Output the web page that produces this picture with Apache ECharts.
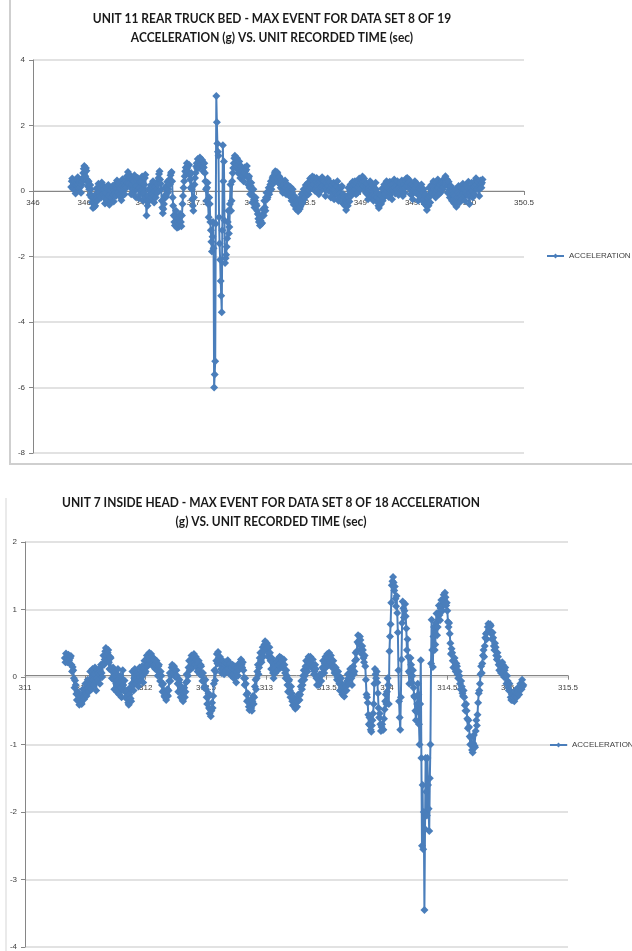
<!DOCTYPE html>
<html>
<head>
<meta charset="utf-8">
<script src="https://cdn.jsdelivr.net/npm/echarts@6/dist/echarts.min.js"></script>
<style>
    html, body { margin: 0; padding: 0; background: #fff; }
    #main { width: 632px; height: 951px; }
</style>
</head>
<body>
<div id="main"></div>
<script>
// recorded time: first sample and sample step (sec)
// each unit logs on the 0.01 s grid plus an in-between reading 0.005 s later
var t0Rear = 346.35, t0Head = 311.33, dt = 0.01;

// UNIT 11 REAR TRUCK BED, acceleration (g), one row = 0.1 sec
var accelRear = [
    0.12, 0.38, 0.05, 0.31, -0.08, 0.25, 0.42, 0.10, 0.33, -0.05,
    0.28, 0.55, 0.76, 0.45, 0.62, 0.15, 0.30, -0.12, 0.05, -0.35,
    -0.52, -0.20, -0.45, 0.08, -0.30, 0.22, -0.15, 0.10, 0.26, -0.10,
    0.05, -0.38, 0.12, -0.25, 0.18, -0.42, 0.02, -0.20, 0.15, -0.32,
    0.20, -0.15, 0.32, -0.05, 0.25, 0.08, -0.28, 0.36, 0.12, -0.10,
    0.30, 0.45, 0.58, 0.22, 0.40, -0.10, 0.35, 0.05, 0.48, -0.18,
    0.15, 0.40, -0.22, 0.28, 0.02, 0.44, -0.30, 0.20, 0.50, -0.75,
    -0.45, 0.05, -0.25, 0.18, -0.10, 0.30, -0.35, 0.12, 0.25, -0.05,
    0.40, 0.60, 0.22, -0.30, -0.68, -0.40, 0.10, -0.15, 0.28, 0.05,
    0.35, 0.48, 0.58, -0.20, -0.75, -1.05, -0.60, -1.12, -0.85, -1.00,
    -0.70, -1.08, -0.40, 0.10, 0.45, 0.72, 0.85, 0.60, 0.80, 0.35,
    0.55, -0.25, -0.60, 0.20, 0.55, 0.85, 0.98, 0.70, 1.02, 0.80,
    0.95, 0.60, 0.85, 0.30, -0.30, 0.25, -0.80, -0.40, -1.20, -1.85,
    -0.95, -6.00, -5.20, 2.90, 1.45, 1.08, -1.60, -2.75, -3.70, 1.40,
    0.90, -2.20, -1.95, -1.45, -0.60, -1.10, 0.20, -0.30, 0.55, 0.85,
    1.08, 0.70, 1.00, 0.55, 0.90, 0.40, 0.75, 0.62, 0.30, 0.72,
    0.48, 0.76, 0.20, 0.45, -0.10, 0.25, -0.35, 0.05, -0.50, -0.20,
    -0.45, -0.70, -0.95, -1.05, -0.80, -0.98, -0.55, -0.30, -0.60, -0.05,
    -0.20, 0.10, 0.00, 0.30, 0.18, 0.45, 0.35, 0.60, 0.40, 0.55,
    0.25, 0.42, 0.10, 0.30, -0.05, 0.20, 0.32, -0.10, 0.15, 0.05,
    -0.15, 0.12, -0.30, 0.05, -0.42, -0.20, -0.55, -0.35, -0.62, -0.25,
    -0.48, -0.10, -0.35, 0.05, -0.20, 0.18, -0.05, 0.25, 0.02, 0.38,
    0.15, 0.44, 0.20, 0.35, 0.05, 0.40, 0.22, -0.10, 0.30, 0.12,
    0.42, 0.08, 0.30, -0.15, 0.25, 0.38, 0.00, 0.28, -0.20, 0.18,
    0.05, -0.25, 0.20, -0.10, 0.30, -0.30, 0.10, -0.18, 0.15, -0.38,
    -0.20, -0.45, -0.58, -0.15, 0.10, -0.32, 0.20, -0.05, 0.28, 0.02,
    0.30, -0.10, 0.25, 0.12, 0.38, 0.05, 0.35, 0.44, 0.15, 0.30,
    -0.05, 0.22, -0.25, 0.10, 0.30, -0.15, 0.18, -0.30, 0.05, 0.25,
    -0.20, -0.35, -0.52, -0.10, -0.40, 0.08, -0.22, 0.20, -0.05, 0.30,
    0.10, -0.18, 0.28, 0.02, -0.25, 0.22, 0.35, -0.08, 0.15, 0.30,
    -0.12, 0.25, 0.05, 0.32, -0.15, 0.20, 0.10, 0.38, 0.40, 0.12,
    0.28, -0.10, 0.20, -0.25, 0.15, 0.30, -0.05, 0.22, -0.30, 0.08,
    -0.15, 0.20, -0.30, 0.05, -0.40, -0.10, -0.58, -0.22, 0.10, -0.35,
    0.18, -0.05, 0.30, 0.08, -0.20, 0.25, 0.35, -0.10, 0.20, 0.05,
    0.30, 0.12, 0.38, 0.45, 0.20, -0.05, 0.28, -0.20, 0.15, -0.30,
    -0.10, -0.38, 0.05, -0.48, -0.20, 0.15, -0.35, 0.10, -0.25, 0.22,
    0.05, -0.30, 0.18, -0.12, 0.28, -0.40, 0.10, 0.25, -0.20, 0.12,
    0.30, 0.39, 0.05, 0.28, -0.15, 0.32, 0.10, 0.35
];
// in-between readings (0.005 s after each of the above)
var accelRearMid = [
    0.30, 0.15, 0.22, 0.02, 0.18, 0.35, 0.20, 0.28, 0.12, 0.20,
    0.40, 0.68, 0.58, 0.70, 0.35, 0.25, 0.05, 0.18, -0.20, -0.15,
    -0.35, -0.48, -0.10, -0.22, 0.05, -0.05, 0.18, -0.20, 0.05, 0.15,
    -0.20, -0.05, -0.30, 0.05, -0.15, -0.10, -0.32, 0.10, -0.12, 0.02,
    -0.05, 0.10, 0.08, 0.18, -0.12, -0.20, 0.15, 0.00, 0.25, 0.15,
    0.10, 0.25, 0.40, 0.50, 0.10, 0.20, -0.05, 0.30, 0.12, 0.08,
    0.32, 0.05, 0.10, -0.10, 0.30, 0.05, -0.05, 0.40, -0.20, -0.30,
    -0.15, -0.30, 0.02, -0.20, 0.12, -0.15, 0.00, -0.20, 0.05, 0.20,
    0.52, 0.35, 0.05, -0.50, -0.55, -0.15, -0.20, 0.15, -0.05, 0.20,
    0.20, 0.55, 0.30, -0.45, -0.95, -0.80, -0.90, -0.95, -1.10, -0.75,
    -0.95, -0.75, -0.15, 0.30, 0.60, 0.55, 0.70, 0.78, 0.50, 0.10,
    0.05, -0.45, -0.20, 0.40, 0.75, 0.68, 0.85, 0.92, 0.88, 0.95,
    0.75, 0.72, 0.55, 0.05, 0.10, -0.40, -0.20, -0.95, -1.55, -1.40,
    -1.75, -5.60, -1.00, 2.10, 1.20, -0.80, -2.10, -3.20, -1.20, 0.30,
    -0.90, -2.05, -1.70, -0.95, -1.30, -0.40, -0.60, 0.30, 0.70, 1.00,
    0.85, 0.95, 0.75, 0.80, 0.65, 0.60, 0.50, 0.45, 0.55, 0.60,
    0.65, 0.45, 0.40, 0.10, 0.15, -0.10, -0.15, -0.25, -0.30, -0.40,
    -0.60, -0.85, -0.75, -0.90, -1.00, -0.70, -0.75, -0.50, -0.20, -0.25,
    -0.05, -0.10, 0.20, 0.05, 0.40, 0.25, 0.55, 0.30, 0.58, 0.35,
    0.45, 0.20, 0.35, 0.05, 0.15, 0.05, 0.10, 0.22, -0.05, -0.10,
    -0.05, -0.20, -0.05, -0.25, -0.15, -0.45, -0.30, -0.50, -0.40, -0.55,
    -0.25, -0.40, -0.05, -0.25, 0.05, -0.12, 0.20, -0.10, 0.25, 0.10,
    0.35, 0.10, 0.42, 0.00, 0.28, 0.15, 0.05, 0.20, 0.00, 0.35,
    0.15, 0.35, 0.05, 0.10, 0.05, 0.15, 0.25, 0.05, 0.10, -0.08,
    0.25, 0.05, -0.05, 0.15, -0.12, 0.05, -0.08, 0.10, -0.15, -0.10,
    -0.40, -0.30, -0.35, -0.45, -0.20, 0.00, -0.15, 0.18, 0.05, 0.20,
    0.05, 0.15, -0.05, 0.30, 0.18, 0.25, 0.20, 0.28, 0.38, 0.02,
    0.15, -0.10, 0.02, -0.15, 0.05, 0.10, -0.12, 0.00, -0.15, 0.05,
    -0.05, -0.45, -0.25, -0.38, -0.15, -0.30, 0.05, -0.10, 0.15, 0.00,
    0.25, 0.05, -0.05, 0.20, 0.05, 0.00, 0.10, 0.28, 0.05, -0.05,
    0.10, -0.05, 0.25, 0.05, 0.10, -0.05, 0.30, 0.15, 0.25, 0.35,
    0.05, 0.15, -0.10, 0.00, 0.05, 0.10, 0.18, -0.10, -0.05, -0.12,
    0.05, -0.12, -0.05, -0.25, -0.15, -0.45, -0.35, -0.45, -0.15, -0.10,
    -0.10, 0.15, 0.05, -0.10, 0.05, 0.05, 0.10, 0.22, -0.05, 0.25,
    0.05, 0.30, 0.20, 0.28, 0.35, 0.15, 0.02, 0.10, -0.10, 0.00,
    -0.25, -0.15, -0.30, -0.35, -0.05, -0.20, -0.10, -0.15, 0.05, -0.05,
    -0.15, -0.05, 0.00, 0.10, -0.15, -0.05, -0.15, 0.00, 0.05, -0.10,
    0.15, 0.20, 0.30, 0.10, 0.08, 0.20, 0.25
];

// UNIT 7 INSIDE HEAD, acceleration (g), one row = 0.1 sec
var accelHead = [
    0.28, 0.35, 0.22, 0.33, 0.20, 0.31, 0.08, 0.10, -0.16, -0.12,
    -0.34, -0.26, -0.41, -0.28, -0.40, -0.18, -0.33, -0.10, -0.28, -0.04,
    -0.22, 0.08, -0.18, 0.12, -0.12, 0.14, -0.20, 0.10, 0.06, -0.10,
    0.18, 0.00, 0.32, 0.26, 0.43, 0.24, 0.40, 0.12, 0.28, -0.02,
    0.14, -0.18, 0.08, -0.22, 0.12, -0.26, 0.02, -0.30, 0.10, -0.20,
    -0.22, -0.32, -0.28, -0.41, -0.16, -0.36, 0.08, -0.20, 0.12, -0.10,
    0.06, -0.14, 0.14, -0.06, 0.16, -0.08, 0.24, 0.08, 0.32, 0.18,
    0.36, 0.26, 0.30, 0.16, 0.26, 0.12, 0.24, 0.02, 0.18, -0.06,
    0.02, -0.22, -0.20, -0.30, -0.34, -0.18, -0.20, 0.06, 0.02, 0.18,
    0.06, 0.12, 0.02, 0.02, -0.22, -0.04, -0.30, -0.22, -0.36, -0.16,
    -0.22, 0.04, 0.02, 0.24, 0.14, 0.32, 0.14, 0.34, 0.18, 0.26,
    0.08, 0.24, 0.04, 0.16, -0.06, -0.06, -0.14, -0.18, -0.40, -0.24,
    -0.54, -0.58, -0.38, -0.28, 0.10, 0.08, 0.34, 0.37, 0.20, 0.24,
    0.06, 0.24, 0.04, 0.22, 0.08, 0.25, 0.06, 0.20, 0.02, 0.18,
    -0.02, 0.16, -0.08, 0.14, 0.10, 0.16, 0.26, 0.14, 0.10, -0.12,
    -0.10, -0.36, -0.34, -0.49, -0.34, -0.50, -0.28, -0.30, -0.04, -0.02,
    0.18, 0.14, 0.36, 0.22, 0.44, 0.38, 0.53, 0.42, 0.44, 0.34,
    0.36, 0.12, 0.22, -0.02, 0.18, 0.12, 0.22, 0.18, 0.30, 0.14,
    0.24, 0.18, 0.18, -0.02, 0.02, -0.22, -0.04, -0.30, -0.24, -0.42,
    -0.36, -0.47, -0.34, -0.36, -0.28, -0.26, -0.06, -0.12, 0.10, 0.02,
    0.24, 0.08, 0.30, 0.20, 0.26, 0.18, 0.16, 0.08, 0.12, -0.12,
    -0.04, -0.06, 0.02, 0.04, 0.24, 0.06, 0.30, 0.22, 0.28, 0.36,
    0.22, 0.26, 0.18, 0.16, 0.08, 0.06, 0.00, 0.02, -0.20, -0.02,
    -0.26, -0.22, -0.22, -0.14, -0.06, -0.02, 0.06, 0.12, -0.12, 0.16,
    0.08, 0.36, 0.38, 0.62, 0.48, 0.55, 0.34, 0.40, 0.22, 0.16,
    -0.26, -0.38, -0.70, -0.72, -0.81, -0.64, -0.40, 0.12, -0.02, -0.08,
    -0.46, -0.54, -0.80, -0.70, -0.78, -0.48, -0.26, -0.22, -0.12, 0.38,
    0.78, 1.36, 1.48, 1.28, 1.16, 1.20, 0.66, -0.36, -0.78, 0.26,
    1.12, 0.88, 1.08, 0.72, 0.56, 0.08, 0.06, 0.18, 0.02, -0.16,
    -0.30, -0.64, -0.40, -0.26, -1.00, 0.25, -2.50, -2.55, -3.45, -1.20,
    -2.05, -1.60, -2.28, -1.00, 0.85, 0.15, 0.74, 0.48, 0.94, 0.74,
    1.06, 0.84, 1.14, 0.98, 1.22, 1.25, 1.06, 0.98, 0.74, 0.64,
    0.34, 0.36, 0.14, 0.28, 0.08, 0.16, -0.02, 0.02, -0.18, -0.14,
    -0.28, -0.30, -0.50, -0.50, -0.76, -0.74, -1.00, -1.00, -1.12, -0.86,
    -1.04, -0.64, -0.56, -0.24, -0.10, 0.16, 0.20, 0.40, 0.46, 0.64,
    0.66, 0.79, 0.74, 0.76, 0.56, 0.58, 0.40, 0.44, 0.26, 0.30,
    0.10, 0.16, 0.14, 0.18, 0.00, 0.14, -0.10, -0.06, -0.20, -0.20,
    -0.34, -0.34, -0.30, -0.28, -0.24, -0.24, -0.20, -0.18, -0.14, -0.04,
    -0.12
];
// in-between readings (0.005 s after each of the above)
var accelHeadMid = [
    0.22, 0.28, 0.30, 0.25, 0.28, 0.18, 0.15, -0.02, -0.05, -0.25,
    -0.22, -0.36, -0.32, -0.38, -0.26, -0.30, -0.20, -0.24, -0.12, -0.16,
    -0.06, -0.10, -0.02, -0.04, 0.04, -0.06, -0.02, -0.05, 0.12, 0.08,
    0.06, 0.20, 0.18, 0.38, 0.32, 0.36, 0.22, 0.30, 0.10, 0.10,
    -0.04, 0.02, -0.10, -0.05, -0.10, -0.08, -0.15, -0.08, -0.12, -0.05,
    -0.30, -0.20, -0.38, -0.26, -0.32, -0.10, -0.12, -0.02, -0.04, 0.04,
    -0.06, 0.04, 0.00, 0.08, 0.02, 0.12, 0.06, 0.26, 0.16, 0.30,
    0.24, 0.34, 0.20, 0.28, 0.18, 0.20, 0.10, 0.16, 0.04, 0.08,
    -0.12, -0.10, -0.28, -0.24, -0.26, -0.28, -0.06, -0.06, 0.14, 0.04,
    0.16, 0.00, 0.10, -0.10, -0.08, -0.20, -0.14, -0.34, -0.24, -0.30,
    -0.08, -0.06, 0.14, 0.10, 0.26, 0.20, 0.28, 0.22, 0.30, 0.14,
    0.20, 0.10, 0.18, 0.02, 0.06, -0.16, -0.04, -0.30, -0.30, -0.46,
    -0.48, -0.50, -0.46, -0.10, -0.05, 0.24, 0.20, 0.28, 0.30, 0.12,
    0.20, 0.12, 0.18, 0.10, 0.20, 0.12, 0.18, 0.10, 0.14, 0.04,
    0.10, 0.02, 0.08, 0.02, 0.20, 0.22, 0.18, 0.22, -0.02, -0.02,
    -0.26, -0.24, -0.44, -0.40, -0.46, -0.36, -0.40, -0.14, -0.18, 0.08,
    0.04, 0.28, 0.24, 0.36, 0.30, 0.48, 0.44, 0.50, 0.30, 0.44,
    0.24, 0.28, 0.06, 0.12, 0.06, 0.24, 0.10, 0.28, 0.20, 0.28,
    0.14, 0.26, 0.06, 0.10, -0.12, -0.06, -0.20, -0.14, -0.36, -0.30,
    -0.44, -0.38, -0.44, -0.26, -0.34, -0.14, -0.18, 0.02, -0.04, 0.16,
    0.14, 0.22, 0.16, 0.30, 0.14, 0.26, 0.04, 0.18, -0.02, 0.00,
    -0.12, 0.04, -0.06, 0.14, 0.12, 0.20, 0.14, 0.34, 0.18, 0.24,
    0.32, 0.14, 0.24, 0.06, 0.14, -0.04, 0.08, -0.10, -0.08, -0.16,
    -0.14, -0.29, -0.12, -0.20, 0.04, -0.10, 0.12, -0.02, 0.04, 0.04,
    0.24, 0.26, 0.52, 0.50, 0.60, 0.42, 0.46, 0.28, 0.32, -0.04,
    -0.30, -0.56, -0.60, -0.78, -0.72, -0.54, -0.10, 0.04, 0.08, -0.24,
    -0.60, -0.70, -0.74, -0.78, -0.62, -0.36, -0.40, -0.02, -0.40, 0.60,
    1.10, 1.42, 1.40, 1.34, 1.05, 0.95, 0.10, -0.60, -0.30, 0.80,
    1.02, 0.98, 0.90, 0.40, 0.30, -0.10, 0.28, -0.08, 0.10, -0.28,
    -0.50, -0.52, -0.10, -0.70, -0.40, -1.20, -1.60, -2.00, -2.25, -1.70,
    -1.20, -1.95, -1.50, 0.20, 0.40, 0.60, 0.40, 0.80, 0.62, 0.95,
    0.92, 1.02, 1.04, 1.12, 1.14, 1.18, 1.10, 0.82, 0.80, 0.50,
    0.42, 0.24, 0.24, 0.16, 0.20, 0.04, 0.08, -0.10, -0.06, -0.24,
    -0.20, -0.42, -0.40, -0.62, -0.64, -0.88, -0.90, -1.08, -0.98, -1.02,
    -0.80, -0.72, -0.38, -0.20, 0.04, 0.06, 0.32, 0.30, 0.58, 0.56,
    0.74, 0.70, 0.78, 0.64, 0.66, 0.46, 0.50, 0.32, 0.36, 0.18,
    0.20, 0.06, 0.22, 0.06, 0.10, 0.02, 0.02, -0.16, -0.10, -0.30,
    -0.26, -0.30, -0.36, -0.20, -0.30, -0.16, -0.26, -0.10, -0.18, -0.14
];

var titleRear = ['UNIT 11 REAR TRUCK BED - MAX EVENT FOR DATA SET 8 OF 19',
    'ACCELERATION (g) VS. UNIT RECORDED TIME (sec)'];
var titleHead = ['UNIT 7 INSIDE HEAD - MAX EVENT FOR DATA SET 8 OF 18 ACCELERATION',
    '(g) VS. UNIT RECORDED TIME (sec)'];
var seriesName = 'ACCELERATION (g)';

var blue = '#4a7ebb';

// turn both reading lists into time ordered [time, g] pairs
function toPairs(t0, main, mid) {
    var out = [];
    for (var i = 0; i < main.length; i++) {
        out.push([+(t0 + i * dt).toFixed(3), main[i]]);
        if (i < mid.length) {
            out.push([+(t0 + i * dt + dt / 2).toFixed(3), mid[i]]);
        }
    }
    return out;
}

// x axis sits on the zero line: shift it up from the grid bottom
function xAxisOf(grid, min, max, shift) {
    return {
        type: 'value', gridIndex: grid, min: min, max: max, interval: 0.5,
        position: 'bottom', offset: -shift,
        axisLine: {onZero: false, lineStyle: {color: '#868686'}},
        axisTick: {show: true, length: 4, lineStyle: {color: '#868686'}},
        axisLabel: {fontSize: 8, color: '#404040', margin: 8,
            formatter: function (v) { return String(v); }},
        splitLine: {show: false}
    };
}

function yAxisOf(grid, min, max, step) {
    return {
        type: 'value', gridIndex: grid, min: min, max: max, interval: step,
        axisLine: {show: true, onZero: false, lineStyle: {color: '#868686'}},
        axisTick: {show: true, length: 4, lineStyle: {color: '#868686'}},
        axisLabel: {fontSize: 8, color: '#404040', margin: 8},
        splitLine: {lineStyle: {color: '#d9d9d9', width: 1.5}}
    };
}

// title lines, squeezed a little to look like the narrow office font
function titleText(lines, cx, y) {
    return lines.map(function (s, i) {
        return {
            type: 'text', x: cx, y: y + i * 19, scaleX: 0.855,
            style: {text: s, fill: '#1a1a1a', fontSize: 14, fontWeight: 'bold',
                fontFamily: 'Lato, sans-serif', align: 'center', verticalAlign: 'middle'}
        };
    });
}

function seriesOf(idx, data) {
    return {
        name: seriesName, type: 'line', xAxisIndex: idx, yAxisIndex: idx,
        data: data, symbol: 'diamond', symbolSize: 8,
        lineStyle: {color: blue, width: 2},
        itemStyle: {color: blue},
        animation: false
    };
}

var myChart = echarts.init(document.getElementById('main'));

var option = {
    animation: false,
    backgroundColor: '#fff',
    grid: [
        {left: 33, top: 60, width: 491, height: 393},
        {left: 25, top: 542, width: 543, height: 407}
    ],
    xAxis: [xAxisOf(0, 346, 350.5, 262), xAxisOf(1, 311, 315.5, 271.3)],
    yAxis: [yAxisOf(0, -8, 4, 2), yAxisOf(1, -4, 2, 1)],
    legend: [
        {data: [seriesName], left: 546, top: 252, padding: 0, itemWidth: 17, itemHeight: 6,
            textStyle: {fontSize: 8, color: '#404040'}},
        {data: [seriesName], left: 549, top: 741, padding: 0, itemWidth: 17, itemHeight: 6,
            textStyle: {fontSize: 8, color: '#404040'}}
    ],
    graphic: [
        // excel chart frames
        {type: 'polyline', shape: {points: [[10, 0], [10, 464], [640, 464]]},
            style: {stroke: '#cfcfcf', lineWidth: 2, fill: null}},
        {type: 'polyline', shape: {points: [[6, 498], [6, 951]]},
            style: {stroke: '#e3e3e3', lineWidth: 1.5, fill: null}}
    ].concat(titleText(titleRear, 272, 18), titleText(titleHead, 271, 502)),
    series: [
        seriesOf(0, toPairs(t0Rear, accelRear, accelRearMid)),
        seriesOf(1, toPairs(t0Head, accelHead, accelHeadMid))
    ]
};

myChart.setOption(option);
</script>
</body>
</html>
